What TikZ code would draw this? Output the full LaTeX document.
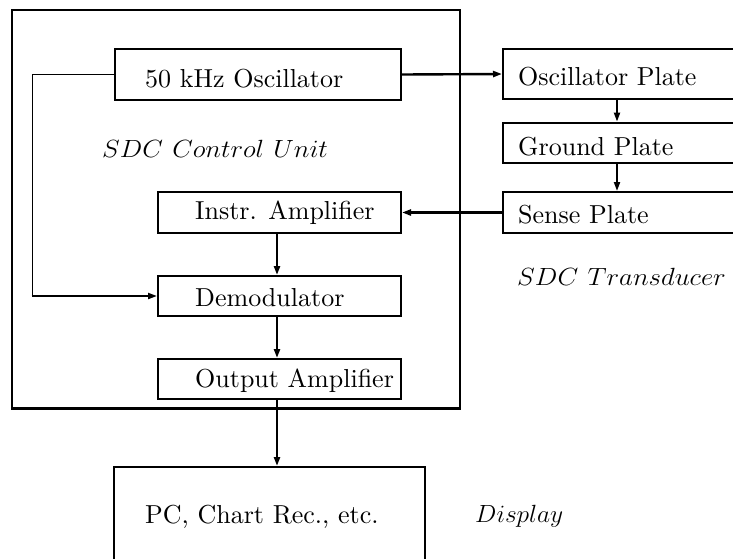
\documentclass[tikz,border=0pt]{standalone}
\usepackage{fontspec}
\usepackage{graphicx}
\newfontfamily\tenrm{lmroman10-regular.otf}
\usetikzlibrary{arrows.meta}
\begin{document}
\begin{tikzpicture}[x=1pt,y=-1pt,
  box/.style={draw, line width=2pt, rectangle, inner sep=0pt},
  lbl/.style={inner sep=0pt, anchor=base west, font=\tenrm\fontsize{26}{30}\selectfont},
  conn/.style={line width=2.4pt, -{Triangle[length=9pt,width=6pt]}},
  thinconn/.style={line width=1pt}]
\useasboundingbox (0,0) rectangle (733,558);
\clip (0,0) rectangle (733,558);
% outer control unit frame
\draw[line width=2pt] (12,10) rectangle (460,408);
\draw[line width=3pt] (11,408) -- (461,408);
% boxes
\node (osc) [box, minimum width=286pt, minimum height=51pt] at (258,74.5) {};
\node (instr) [box, minimum width=243pt, minimum height=41pt] at (279.5,212.5) {};
\node (demod) [box, minimum width=243pt, minimum height=40pt] at (279.5,296) {};
\node (outamp) [box, minimum width=243pt, minimum height=40pt] at (279.5,379) {};
\node (oscp) [box, minimum width=242pt, minimum height=50pt] at (624,74) {};
\node (gndp) [box, line width=2.8pt, minimum width=242pt, minimum height=40pt] at (624,143) {};
\node (sensep) [box, minimum width=242pt, minimum height=41pt] at (624,212.5) {};
\node (disp) [box, minimum width=311pt, minimum height=108pt] at (269.5,521) {};
% labels
\node[lbl] at (145,87) {50 kHz Oscillator};
\node[lbl] at (195,219) {Instr. Amplifier};
\node[lbl] at (195,306) {Demodulator};
\node[lbl] at (195,387) {Output Amplifier};
\node[lbl] at (518,85) {Oscillator Plate};
\node[lbl] at (518,155) {Ground Plate};
\node[lbl] at (518,223) {Sense Plate};
\node[lbl] at (145,523) {PC, Chart Rec., etc.};
\node[lbl] (cu) at (102,157) {\scalebox{1.075}[1]{$SDC\ Control\ Unit$}};
\node[lbl] (tr) at (517,285) {\scalebox{1.08}[1]{$SDC\ Transducer$}};
\node[lbl] (dl) at (475,522) {\scalebox{1.02}[1]{$Display$}};
% connector helper coordinates
\coordinate (cx) at (277,0);
\coordinate (rx) at (617,0);
\coordinate (fbx) at (32,0);
% connectors
\draw[conn] (osc.east) -- (oscp.west);
\draw[conn, line width=2pt] (oscp.south -| rx) -- (gndp.north -| rx);
\draw[conn, line width=2pt] (gndp.south -| rx) -- (sensep.north -| rx);
\draw[conn] (sensep.west) -- (instr.east);
\draw[conn] (instr.south -| cx) -- (demod.north -| cx);
\draw[conn] (demod.south -| cx) -- (outamp.north -| cx);
\draw[conn] (outamp.south -| cx) -- (disp.north -| cx);
\draw[thinconn] (osc.west) -- (osc.west -| fbx) -- (demod.west -| fbx);
\draw[conn, line width=2pt] ([xshift=-0.5pt]demod.west -| fbx) -- (demod.west);
\end{tikzpicture}
\end{document}
